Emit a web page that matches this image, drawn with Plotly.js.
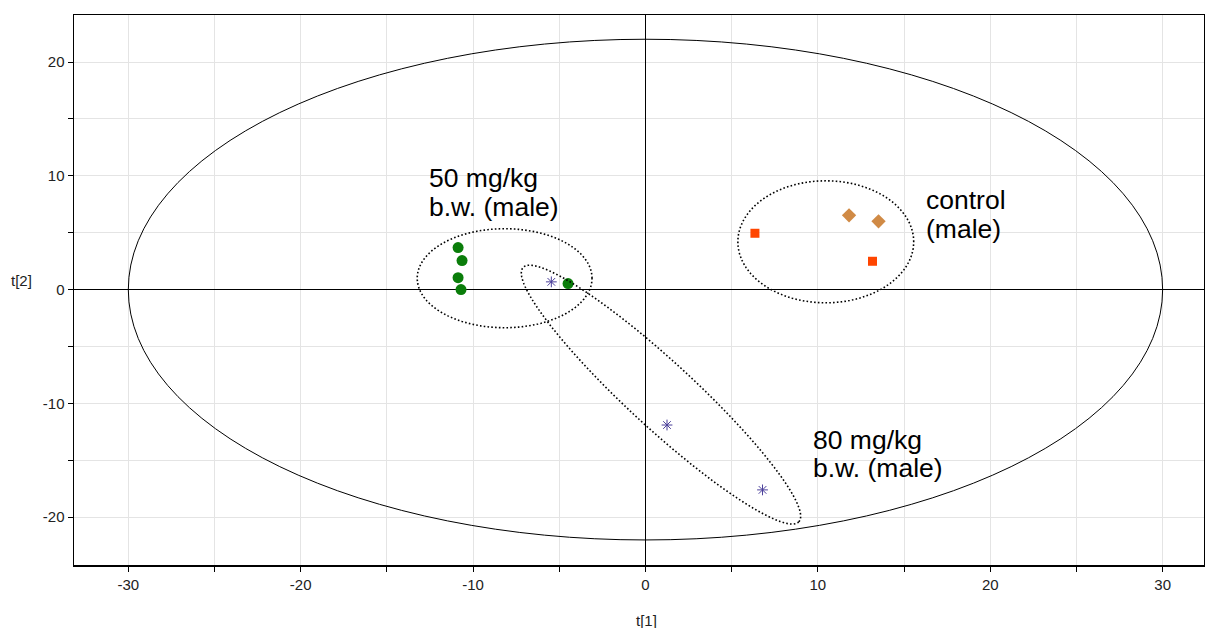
<!DOCTYPE html>
<html><head><meta charset="utf-8">
<script src="https://cdn.plot.ly/plotly-3.0.1.min.js"></script>
<style>html,body{margin:0;padding:0;background:#fff}#chart{width:1205px;height:628px}</style>
</head><body><div id="chart"></div>
<script>
// Scores
const dose50_t1 = [-10.87, -10.64, -10.87, -10.70, -4.49];
const dose50_t2 = [3.69, 2.55, 1.05, 0.00, 0.53];
const dose80_t1 = [-5.46, 1.25, 6.79];
const dose80_t2 = [0.68, -11.9, -17.6];
const ctrlSq_t1 = [6.35, 13.17];
const ctrlSq_t2 = [4.95, 2.49];
const ctrlDi_t1 = [11.81, 13.52];
const ctrlDi_t2 = [6.53, 6.00];

// Hotelling ellipse (semi-axes)
const hotelling = [30, 22];

// Group ellipses: [cx, cy, ux, uy, vx, vy]
const group50 = [-8.17, 1.0, 5.07, 0, 0, 4.35];
const groupCtrl = [10.46, 4.2, 5.1, 0, 0, 5.36];
const group80 = [0.9, -9.23, 8.0, -11.17, 1.29, 2.14];

// Labels
const labelText = ["50 mg/kg", "b.w. (male)", "control", "(male)", "80 mg/kg", "b.w. (male)"];
const labelX = [-12.67, -12.67, 16.14, 16.14, 9.63, 9.63];
const labelY = [9.84, 7.29, 7.91, 5.36, -13.18, -15.64];

const xTicks = [-30,-25,-20,-15,-10,-5,0,5,10,15,20,25,30];
const yTicks = [-20,-15,-10,-5,0,5,10,15,20];

function ellPath(e){
  const n = 160; let p = '';
  for(let i=0;i<=n;i++){
    const t = 2*Math.PI*i/n;
    const x = e[0] + e[2]*Math.cos(t) + e[4]*Math.sin(t);
    const y = e[1] + e[3]*Math.cos(t) + e[5]*Math.sin(t);
    p += (i===0?'M':'L') + x.toFixed(4) + ',' + y.toFixed(4);
  }
  return p + 'Z';
}

const FONT = 'Liberation Sans, Arial, sans-serif';

const traces = [
  {x: dose50_t1, y: dose50_t2, mode:'markers', type:'scatter',
   marker:{symbol:'circle', size:11, color:'#0a7d0a'}},
  {x: dose80_t1, y: dose80_t2, mode:'markers', type:'scatter',
   marker:{symbol:'asterisk-open', size:9, color:'#4b3f9a', line:{color:'#4b3f9a', width:1}}},
  {x: ctrlSq_t1, y: ctrlSq_t2, mode:'markers', type:'scatter',
   marker:{symbol:'square', size:9, color:'#ff4500'}},
  {x: ctrlDi_t1, y: ctrlDi_t2, mode:'markers', type:'scatter',
   marker:{symbol:'diamond', size:11, color:'#d08a45'}}
];

const dotLine = {color:'#000', width:1.6, dash:'1.6px,2.2px'};
const shapes = [
  {type:'circle', xref:'x', yref:'y', x0:-hotelling[0], x1:hotelling[0], y0:-hotelling[1], y1:hotelling[1],
   line:{color:'#000', width:1}},
  {type:'path', xref:'x', yref:'y', path: ellPath(group50), line: dotLine},
  {type:'path', xref:'x', yref:'y', path: ellPath(groupCtrl), line: dotLine},
  {type:'path', xref:'x', yref:'y', path: ellPath(group80), line: dotLine}
];

const annotations = labelText.map((t,i)=>({
  x: labelX[i], y: labelY[i], xref:'x', yref:'y', text: t, showarrow:false,
  xanchor:'left', yanchor:'middle', font:{family:FONT, size:26.5, color:'#000'}
}));
annotations.push({x:-0.0465, y:0.518, xref:'paper', yref:'paper', text:'t[2]', showarrow:false,
  xanchor:'center', yanchor:'middle', font:{family:FONT, size:15, color:'#222'}});
annotations.push({x:0.507, y:-0.1, xref:'paper', yref:'paper', text:'t[1]', showarrow:false,
  xanchor:'center', yanchor:'middle', font:{family:FONT, size:15, color:'#222'}});

const layout = {
  width:1205, height:628,
  margin:{l:74, r:1, t:15, b:63},
  paper_bgcolor:'#fff', plot_bgcolor:'#fff',
  showlegend:false,
  xaxis:{range:[-33.15, 32.4], tickvals:xTicks, ticktext:xTicks.map(v=>v%10===0?String(v):''),
    ticks:'outside', ticklen:5, tickcolor:'#000', showgrid:true, gridcolor:'#e4e4e4', gridwidth:1,
    zeroline:true, zerolinecolor:'#000', zerolinewidth:1,
    showline:true, linecolor:'#000', linewidth:1.5, mirror:true,
    tickfont:{family:FONT, size:15, color:'#222'}},
  yaxis:{range:[-24.2, 24.13], tickvals:yTicks, ticktext:yTicks.map(v=>v%10===0?String(v):''),
    ticks:'outside', ticklen:5, tickcolor:'#000', showgrid:true, gridcolor:'#e4e4e4', gridwidth:1,
    zeroline:true, zerolinecolor:'#000', zerolinewidth:1,
    showline:true, linecolor:'#000', linewidth:1.5, mirror:true,
    tickfont:{family:FONT, size:15, color:'#222'}},
  shapes: shapes,
  annotations: annotations
};

Plotly.newPlot('chart', traces, layout, {displayModeBar:false, staticPlot:true});
</script>
</body></html>
